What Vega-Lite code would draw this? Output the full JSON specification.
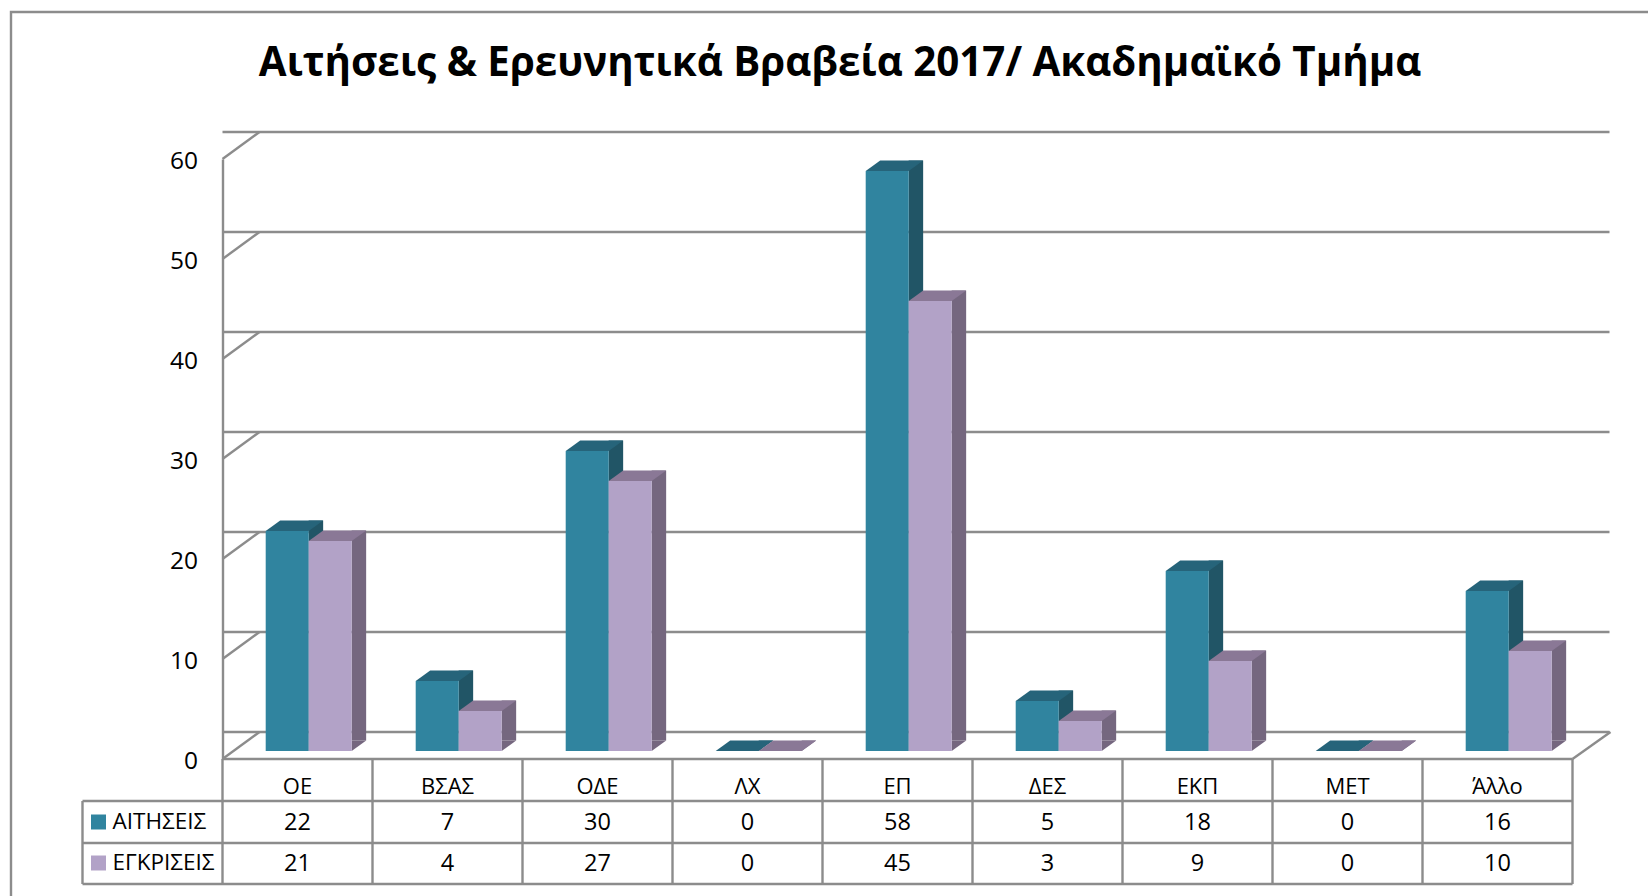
{
"$schema":"https://vega.github.io/schema/vega-lite/v6.json",
"autosize":{"type":"none"},
"padding":{"left":222.5,"top":159,"right":75.5,"bottom":137},
"width":1350,"height":600,
"background":"white",
"config":{"view":{"stroke":null},"font":"Open Sans"},
"title":{"text":"Αιτήσεις & Ερευνητικά Βραβεία 2017/ Ακαδημαϊκό Τμήμα","font":"Open Sans","fontSize":40.3,"fontWeight":"bold","color":"#000000","anchor":"middle","dx":-57.5,"offset":-109,"baseline":"alphabetic"},
"datasets":{
"rows":[
{"cat":"ΟΕ","s":"ΑΙΤΗΣΕΙΣ","v":22},{"cat":"ΒΣΑΣ","s":"ΑΙΤΗΣΕΙΣ","v":7},{"cat":"ΟΔΕ","s":"ΑΙΤΗΣΕΙΣ","v":30},{"cat":"ΛΧ","s":"ΑΙΤΗΣΕΙΣ","v":0},{"cat":"ΕΠ","s":"ΑΙΤΗΣΕΙΣ","v":58},{"cat":"ΔΕΣ","s":"ΑΙΤΗΣΕΙΣ","v":5},{"cat":"ΕΚΠ","s":"ΑΙΤΗΣΕΙΣ","v":18},{"cat":"ΜΕΤ","s":"ΑΙΤΗΣΕΙΣ","v":0},{"cat":"Άλλο","s":"ΑΙΤΗΣΕΙΣ","v":16},
{"cat":"ΟΕ","s":"ΕΓΚΡΙΣΕΙΣ","v":21},{"cat":"ΒΣΑΣ","s":"ΕΓΚΡΙΣΕΙΣ","v":4},{"cat":"ΟΔΕ","s":"ΕΓΚΡΙΣΕΙΣ","v":27},{"cat":"ΛΧ","s":"ΕΓΚΡΙΣΕΙΣ","v":0},{"cat":"ΕΠ","s":"ΕΓΚΡΙΣΕΙΣ","v":45},{"cat":"ΔΕΣ","s":"ΕΓΚΡΙΣΕΙΣ","v":3},{"cat":"ΕΚΠ","s":"ΕΓΚΡΙΣΕΙΣ","v":9},{"cat":"ΜΕΤ","s":"ΕΓΚΡΙΣΕΙΣ","v":0},{"cat":"Άλλο","s":"ΕΓΚΡΙΣΕΙΣ","v":10}
],
"ticks":[{"t":0},{"t":10},{"t":20},{"t":30},{"t":40},{"t":50},{"t":60}]
},
"data":{"name":"rows"},
"layer":[
{"mark":{"type":"point","shape":"M-211.5,737L-211.5,-147L1425.5,-147","size":4,"filled":false,"fill":null,"stroke":"#8c8c8c","strokeWidth":2.4,"opacity":1},
 "data":{"values":[{"frame":1}]},
 "encoding":{"x":{"datum":"ΟΕ","type":"nominal","bandPosition":0,"axis":null,"scale":{"domain":["ΟΕ","ΒΣΑΣ","ΟΔΕ","ΛΧ","ΕΠ","ΔΕΣ","ΕΚΠ","ΜΕΤ","Άλλο"],"paddingInner":0,"paddingOuter":0}},
  "y":{"datum":60,"type":"quantitative","scale":{"domain":[0,60],"nice":false},"axis":{"title":null,"values":[0,10,20,30,40,50,60],"ticks":false,"domain":true,"domainColor":"#8c8c8c","domainWidth":2.4,"grid":false,"labelFont":"Open Sans","labelFontSize":24.5,"labelColor":"#000000","labelPadding":25,"labelOffset":2}}}},
{"data":{"name":"ticks"},"mark":{"type":"rule","stroke":"#8c8c8c","strokeWidth":2.4,"xOffset":37,"x2Offset":39,"yOffset":-27},
 "encoding":{"y":{"field":"t","type":"quantitative"}}},
{"data":{"name":"ticks"},"mark":{"type":"point","shape":"M0,0L37,-27","size":4,"filled":false,"fill":null,"stroke":"#8c8c8c","strokeWidth":2.4,"opacity":1},
 "encoding":{"x":{"datum":"ΟΕ","type":"nominal","bandPosition":0},"y":{"field":"t","type":"quantitative"}}},
{"data":{"values":[{"floor":0}]},"mark":{"type":"point","shape":"M0,0L38,-27","size":4,"filled":false,"fill":null,"stroke":"#8c8c8c","strokeWidth":2.4,"opacity":1},
 "encoding":{"x":{"datum":"Άλλο","type":"nominal","bandPosition":1},"y":{"field":"floor","type":"quantitative"}}},

{"transform":[{"filter":"datum.s=='ΑΙΤΗΣΕΙΣ'"}],"mark":{"type":"bar","width":14.5,"fill":"#215566","xOffset":18.4,"yOffset":-18.5,"y2Offset":-18.5},
 "encoding":{"x":{"field":"cat","type":"nominal","sort":null},"y":{"field":"v","type":"quantitative","stack":null},"y2":{"datum":0}}},
{"transform":[{"filter":"datum.s=='ΕΓΚΡΙΣΕΙΣ'"}],"mark":{"type":"bar","width":14.5,"fill":"#75677f","xOffset":61.4,"yOffset":-18.5,"y2Offset":-18.5},
 "encoding":{"x":{"field":"cat","type":"nominal","sort":null},"y":{"field":"v","type":"quantitative","stack":null},"y2":{"datum":0}}},
{"transform":[{"filter":"datum.s=='ΑΙΤΗΣΕΙΣ'"}],"mark":{"type":"point","shape":"M21.5,0L21.5,-10.5L36,-10.5Z","size":4,"filled":true,"fill":"#215566","opacity":1,"strokeWidth":0,"xOffset":-10.3,"yOffset":-8},
 "encoding":{"x":{"field":"cat","type":"nominal","sort":null},"y":{"datum":0,"type":"quantitative"}}},
{"transform":[{"filter":"datum.s=='ΕΓΚΡΙΣΕΙΣ'"}],"mark":{"type":"point","shape":"M21.5,0L21.5,-10.5L36,-10.5Z","size":4,"filled":true,"fill":"#75677f","opacity":1,"strokeWidth":0,"xOffset":32.7,"yOffset":-8},
 "encoding":{"x":{"field":"cat","type":"nominal","sort":null},"y":{"datum":0,"type":"quantitative"}}},

{"transform":[{"filter":"datum.s=='ΑΙΤΗΣΕΙΣ'"}],"mark":{"type":"point","shape":"M-21.5,0L21.5,0L36,-10.5L-7,-10.5Z","size":4,"filled":true,"fill":"#26647a","opacity":1,"strokeWidth":0,"xOffset":-10.3,"yOffset":-8},
 "encoding":{"x":{"field":"cat","type":"nominal","sort":null},"y":{"field":"v","type":"quantitative"}}},
{"transform":[{"filter":"datum.s=='ΕΓΚΡΙΣΕΙΣ'"}],"mark":{"type":"point","shape":"M-21.5,0L21.5,0L36,-10.5L-7,-10.5Z","size":4,"filled":true,"fill":"#8a7896","opacity":1,"strokeWidth":0,"xOffset":32.7,"yOffset":-8},
 "encoding":{"x":{"field":"cat","type":"nominal","sort":null},"y":{"field":"v","type":"quantitative"}}},

{"transform":[{"filter":"datum.s=='ΑΙΤΗΣΕΙΣ'"}],"mark":{"type":"bar","width":43,"fill":"#30849f","xOffset":-10.3,"yOffset":-8,"y2Offset":-8},
 "encoding":{"x":{"field":"cat","type":"nominal","sort":null},"y":{"field":"v","type":"quantitative","stack":null},"y2":{"datum":0}}},
{"transform":[{"filter":"datum.s=='ΕΓΚΡΙΣΕΙΣ'"}],"mark":{"type":"bar","width":43,"fill":"#b2a2c7","xOffset":32.7,"yOffset":-8,"y2Offset":-8},
 "encoding":{"x":{"field":"cat","type":"nominal","sort":null},"y":{"field":"v","type":"quantitative","stack":null},"y2":{"datum":0}}},

{"data":{"values":[{"line":0}]},"mark":{"type":"point","shape":"M0,0L1350,0M0,42L1350,42M0,84L1350,84M0,125L1350,125M-140,42L0,42M-140,84L0,84M-140,125L0,125M-140,42L-140,125","size":4,"filled":false,"fill":null,"stroke":"#8c8c8c","strokeWidth":2.4,"opacity":1},
 "encoding":{"x":{"datum":"ΟΕ","type":"nominal","bandPosition":0},"y":{"field":"line","type":"quantitative"}}},
{"transform":[{"filter":"datum.s=='ΑΙΤΗΣΕΙΣ'"}],"mark":{"type":"rule","stroke":"#8c8c8c","strokeWidth":2.4,"y2Offset":125},
 "encoding":{"x":{"field":"cat","type":"nominal","sort":null,"bandPosition":0},"y":{"datum":0,"type":"quantitative"},"y2":{"datum":0}}},
{"transform":[{"filter":"datum.s=='ΑΙΤΗΣΕΙΣ' && datum.cat=='Άλλο'"}],"mark":{"type":"rule","stroke":"#8c8c8c","strokeWidth":2.4,"y2Offset":125},
 "encoding":{"x":{"field":"cat","type":"nominal","sort":null,"bandPosition":1},"y":{"datum":0,"type":"quantitative"},"y2":{"datum":0}}},

{"transform":[{"filter":"datum.s=='ΑΙΤΗΣΕΙΣ'"}],"mark":{"type":"text","fontSize":22,"color":"#000000","baseline":"middle","yOffset":28},
 "encoding":{"x":{"field":"cat","type":"nominal","sort":null},"y":{"datum":0,"type":"quantitative"},"text":{"field":"cat"}}},
{"transform":[{"filter":"datum.s=='ΑΙΤΗΣΕΙΣ'"}],"mark":{"type":"text","fontSize":23.5,"color":"#000000","baseline":"middle","yOffset":64},
 "encoding":{"x":{"field":"cat","type":"nominal","sort":null},"y":{"datum":0,"type":"quantitative"},"text":{"field":"v"}}},
{"transform":[{"filter":"datum.s=='ΕΓΚΡΙΣΕΙΣ'"}],"mark":{"type":"text","fontSize":23.5,"color":"#000000","baseline":"middle","yOffset":105},
 "encoding":{"x":{"field":"cat","type":"nominal","sort":null},"y":{"datum":0,"type":"quantitative"},"text":{"field":"v"}}},

{"data":{"values":[{"series":"ΑΙΤΗΣΕΙΣ"}]},"mark":{"type":"point","shape":"square","size":225,"filled":true,"fill":"#30849f","opacity":1,"strokeWidth":0,"xOffset":-124,"yOffset":63},
 "encoding":{"x":{"datum":"ΟΕ","type":"nominal","bandPosition":0},"y":{"datum":0,"type":"quantitative"}}},
{"data":{"values":[{"series":"ΕΓΚΡΙΣΕΙΣ"}]},"mark":{"type":"point","shape":"square","size":225,"filled":true,"fill":"#b2a2c7","opacity":1,"strokeWidth":0,"xOffset":-124,"yOffset":104},
 "encoding":{"x":{"datum":"ΟΕ","type":"nominal","bandPosition":0},"y":{"datum":0,"type":"quantitative"}}},
{"data":{"values":[{"series":"ΑΙΤΗΣΕΙΣ"}]},"mark":{"type":"text","fontSize":22.5,"color":"#000000","align":"left","baseline":"middle","xOffset":-110,"yOffset":63},
 "encoding":{"x":{"datum":"ΟΕ","type":"nominal","bandPosition":0},"y":{"datum":0,"type":"quantitative"},"text":{"field":"series"}}},
{"data":{"values":[{"series":"ΕΓΚΡΙΣΕΙΣ"}]},"mark":{"type":"text","fontSize":22.5,"color":"#000000","align":"left","baseline":"middle","xOffset":-110,"yOffset":104},
 "encoding":{"x":{"datum":"ΟΕ","type":"nominal","bandPosition":0},"y":{"datum":0,"type":"quantitative"},"text":{"field":"series"}}}
]
}
